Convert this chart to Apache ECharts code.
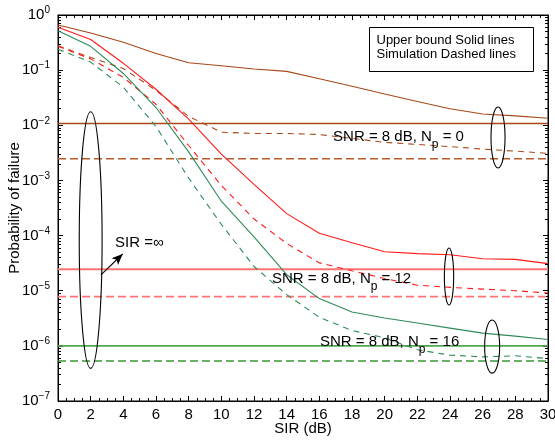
<!DOCTYPE html>
<html>
<head>
<meta charset="utf-8">
<script src="https://cdn.jsdelivr.net/npm/echarts@6/dist/echarts.min.js"></script>
<style>
html, body { margin: 0; padding: 0; background: #fff; }
#main { width: 555px; height: 440px; }
</style>
</head>
<body>
<div id="main"></div>
<script>
// SIR (dB) 横轴
var sir = [0, 2, 4, 6, 8, 10, 12, 14, 16, 18, 20, 22, 24, 26, 28, 30];

// Np = 0
var ubNp0  = [0.66, 0.47, 0.32, 0.2, 0.136, 0.12, 0.105, 0.095, 0.07, 0.051, 0.037, 0.027, 0.02, 0.016, 0.0148, 0.0134];
var simNp0 = [0.277, 0.17, 0.107, 0.043, 0.0145, 0.0075, 0.0071, 0.0071, 0.0068, 0.0058, 0.0049, 0.0045, 0.0041, 0.0037, 0.0034, 0.0031];
// Np = 12
var ubNp12  = [0.6, 0.36, 0.133, 0.045, 0.0129, 0.003, 8.5e-4, 2.5e-4, 1.1e-4, 7.4e-5, 5.1e-5, 4.7e-5, 4.5e-5, 3.8e-5, 3.7e-5, 3.1e-5];
var simNp12 = [0.27, 0.16, 0.074, 0.024, 0.0043, 8.1e-4, 2e-4, 7.2e-5, 3.2e-5, 2.3e-5, 1.66e-5, 1.26e-5, 1.15e-5, 1.07e-5, 1e-5, 9.1e-6];
// Np = 16
var ubNp16  = [0.52, 0.27, 0.087, 0.021, 0.0033, 4.2e-4, 9.5e-5, 1.95e-5, 7.2e-6, 4.1e-6, 3.2e-6, 2.6e-6, 2.1e-6, 1.7e-6, 1.5e-6, 1.3e-6];
var simNp16 = [0.24, 0.14, 0.049, 0.0095, 0.0011, 1.6e-4, 2.75e-5, 8.5e-6, 3.3e-6, 1.9e-6, 1.4e-6, 8.5e-7, 6.8e-7, 6.3e-7, 6.6e-7, 5.9e-7];

// SIR = 无穷 时的水平线 [上界, 仿真]
var infNp0  = [0.0108, 0.00247];
var infNp12 = [2.46e-5, 7.8e-6];
var infNp16 = [1e-6, 5.3e-7];

// 椭圆标注: x 中心, 上端, 下端, 半宽(x)
var ellipseX      = [2, 26.94, 23.94, 26.58];
var ellipseTop    = [1.76e-2, 2.15e-2, 5.94e-5, 2.94e-6];
var ellipseBottom = [3.9e-7, 1.68e-3, 5.5e-6, 3.2e-7];
var ellipseHalfW  = [0.7, 0.43, 0.285, 0.46];

// 文字标注
var noteText = [
    '{a|SNR = 8 dB, N}{s|p}{a| = 0}',
    '{a|SNR = 8 dB, N}{s|p}{a| = 12}',
    '{a|SNR = 8 dB, N}{s|p}{a| = 16}',
    '{a|SIR =\u221e}'
];
var noteX = [16.84, 13.1, 16.04, 3.49];
var noteY = [6.2e-3, 1.63e-5, 1.16e-6, 7.4e-5];
var arrowFrom = [2.63, 1.93e-5];
var arrowTo = [3.96, 4.63e-5];

var font = '"Liberation Sans", Arial, sans-serif';
var brown = '#a8481a';
var red = '#ff1a1a';
var redLevel = '#ff7373';
var green = '#2e8b57';

var myChart = echarts.init(document.getElementById('main'));

function curve(name, ys, color, dashed) {
    return {
        name: name,
        type: 'line',
        symbol: 'none',
        silent: true,
        z: 3,
        data: sir.map(function (x, i) { return [x, ys[i]]; }),
        lineStyle: { color: color, width: 1.1, type: dashed ? [6, 5] : 'solid' }
    };
}

function level(name, v, color, dashed, width) {
    return {
        name: name,
        type: 'line',
        symbol: 'none',
        silent: true,
        z: 2,
        data: [[sir[0], v], [sir[sir.length - 1], v]],
        lineStyle: { color: color, width: width, type: dashed ? [8, 4] : 'solid' }
    };
}

function xAxisCfg(top) {
    return {
        type: 'value',
        position: top ? 'top' : 'bottom',
        min: 0,
        max: 30,
        interval: 2,
        axisLine: { show: true, onZero: false, lineStyle: { color: '#000', width: 1 } },
        axisTick: { show: true, inside: true, length: 5, lineStyle: { color: '#000' } },
        minorTick: { show: true, splitNumber: 4, length: 3, lineStyle: { color: '#000' } },
        axisLabel: { show: !top, color: '#000', fontSize: 15, fontFamily: font, margin: 6 },
        splitLine: { show: false },
        name: top ? '' : 'SIR (dB)',
        nameLocation: 'middle',
        nameGap: 20,
        nameMoveOverlap: false,
        nameTextStyle: { color: '#000', fontSize: 15, fontFamily: font }
    };
}

function yAxisCfg(right) {
    return {
        type: 'log',
        logBase: 10,
        position: right ? 'right' : 'left',
        min: 1e-7,
        max: 1,
        axisLine: { show: true, onZero: false, lineStyle: { color: '#000', width: 1 } },
        axisTick: { show: true, inside: true, length: 5, lineStyle: { color: '#000' } },
        minorTick: { show: true, splitNumber: 9, length: 3, lineStyle: { color: '#000' } },
        axisLabel: {
            show: !right,
            margin: 8,
            formatter: function (v) {
                var e = Math.round(Math.log10(v));
                return '{b|10}{e|' + (e < 0 ? '\u2212' + (-e) : e) + '}';
            },
            rich: {
                b: { fontSize: 15, fontFamily: font, color: '#000' },
                e: { fontSize: 10, fontFamily: font, color: '#000', padding: [0, 0, 9, 0] }
            }
        },
        splitLine: { show: false },
        name: right ? '' : 'Probability of failure',
        nameLocation: 'middle',
        nameGap: 36,
        nameMoveOverlap: false,
        nameTextStyle: { color: '#000', fontSize: 15, fontFamily: font }
    };
}

var option = {
    animation: false,
    backgroundColor: '#fff',
    grid: {
        left: 58, right: 7, top: 15, bottom: 39,
        outerBoundsMode: 'none',
        containLabel: false,
        show: true, borderColor: '#000', borderWidth: 1
    },
    xAxis: [xAxisCfg(false), xAxisCfg(true)],
    yAxis: [yAxisCfg(false), yAxisCfg(true)],
    graphic: [{
        type: 'group',
        left: 369,
        top: 27,
        children: [
            { type: 'rect', shape: { x: 0, y: 0, width: 164, height: 44 }, style: { fill: '#fff', stroke: '#000', lineWidth: 1 } },
            { type: 'text', x: 7, y: 12.5, style: { text: 'Upper bound Solid lines', font: '13px ' + font, fill: '#000', verticalAlign: 'middle' } },
            { type: 'text', x: 7, y: 27, style: { text: 'Simulation Dashed lines', font: '13px ' + font, fill: '#000', verticalAlign: 'middle' } }
        ]
    }],
    series: [
        level('inf0 ub', infNp0[0], brown, false, 1.5),
        level('inf0 sim', infNp0[1], '#b55a2a', true, 1.5),
        level('inf12 ub', infNp12[0], redLevel, false, 2),
        level('inf12 sim', infNp12[1], redLevel, true, 1.6),
        level('inf16 ub', infNp16[0], '#4fa84f', false, 1.6),
        level('inf16 sim', infNp16[1], '#3a963a', true, 1.6),
        curve('ub0', ubNp0, brown, false),
        curve('sim0', simNp0, brown, true),
        curve('ub12', ubNp12, red, false),
        curve('sim12', simNp12, red, true),
        curve('ub16', ubNp16, green, false),
        curve('sim16', simNp16, green, true),
        {
            name: 'ellipses',
            type: 'custom',
            silent: true,
            z: 5,
            clip: false,
            data: ellipseX.map(function (x, i) { return [x, ellipseTop[i], ellipseBottom[i], ellipseHalfW[i]]; }),
            renderItem: function (params, api) {
                var p1 = api.coord([api.value(0), api.value(1)]);
                var p2 = api.coord([api.value(0), api.value(2)]);
                var pw = api.coord([api.value(0) + api.value(3), api.value(1)]);
                return {
                    type: 'ellipse',
                    shape: { cx: p1[0], cy: (p1[1] + p2[1]) / 2, rx: pw[0] - p1[0], ry: (p2[1] - p1[1]) / 2 },
                    style: { fill: null, stroke: '#000', lineWidth: 1.1 }
                };
            },
            markLine: {
                silent: true,
                symbol: ['none', 'arrow'],
                symbolSize: [7, 11],
                label: { show: false },
                lineStyle: { color: '#000', width: 1.1, type: 'solid' },
                data: [[{ coord: arrowFrom }, { coord: arrowTo }]]
            }
        },
        {
            name: 'notes',
            type: 'custom',
            silent: true,
            z: 6,
            clip: false,
            data: noteX.map(function (x, i) { return [x, noteY[i], i]; }),
            renderItem: function (params, api) {
                var p = api.coord([api.value(0), api.value(1)]);
                return {
                    type: 'text',
                    x: p[0],
                    y: p[1],
                    style: {
                        text: noteText[api.value(2)],
                        align: 'left',
                        verticalAlign: 'middle',
                        rich: {
                            a: { fontSize: 15, fontFamily: font, fill: '#000' },
                            s: { fontSize: 12, fontFamily: font, fill: '#000', padding: [15, 0, 0, 0] }
                        }
                    }
                };
            }
        }
    ]
};
myChart.setOption(option);
</script>
</body>
</html>
